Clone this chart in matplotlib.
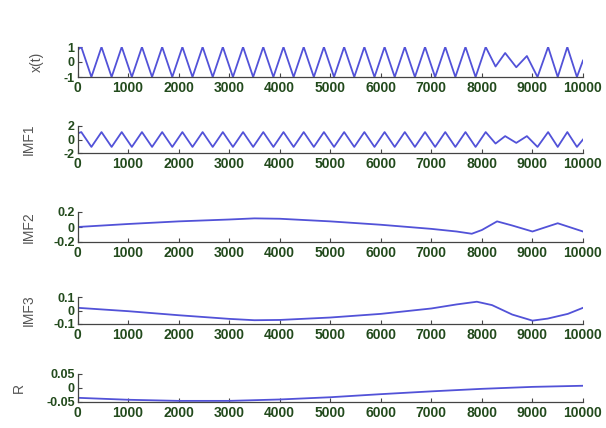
import matplotlib.pyplot as plt

plt.rcParams['font.family'] = ['Liberation Sans', 'DejaVu Sans']

# x(t): turning points
xt_t = [0, 75, 275, 475, 675, 875, 1075, 1275, 1475, 1675, 1875, 2075, 2275, 2475,
        2675, 2875, 3075, 3275, 3475, 3675, 3875, 4075, 4275, 4475, 4675, 4875, 5075,
        5275, 5475, 5675, 5875, 6075, 6275, 6475, 6675, 6875, 7075, 7275, 7475, 7675,
        7875, 8075, 8270, 8460, 8680, 8890, 9100, 9310, 9500, 9690, 9880, 10000]
xt_v = [0.8, 1, -1, 1, -1, 1, -1, 1, -1, 1, -1, 1, -1, 1, -1, 1, -1, 1, -1, 1, -1,
        1, -1, 1, -1, 1, -1, 1, -1, 1, -1, 1, -1, 1, -1, 1, -1, 1, -1, 1, -1, 1,
        -0.3, 0.6, -0.35, 0.4, -1, 1, -1, 1, -1, 0.1]

# IMF1 shares the turning points of x(t)
imf1_v = [0.9, 1.1, -1.1, 1.1, -1.1, 1.1, -1.1, 1.1, -1.1, 1.1, -1.1, 1.1, -1.1, 1.1,
          -1.1, 1.1, -1.1, 1.1, -1.1, 1.1, -1.1, 1.1, -1.1, 1.1, -1.1, 1.1, -1.1, 1.1,
          -1.1, 1.1, -1.1, 1.1, -1.1, 1.1, -1.1, 1.1, -1.1, 1.1, -1.1, 1.1, -1.1, 1.1,
          -0.6, 0.5, -0.5, 0.5, -1.1, 1.1, -1.1, 1.1, -1.1, 0.0]

imf2_t = [0, 1000, 2000, 3000, 3500, 4000, 5000, 6000, 7000, 7500, 7800, 8000,
          8300, 8600, 9000, 9500, 10000]
imf2_v = [0.0, 0.04, 0.075, 0.1, 0.115, 0.11, 0.075, 0.03, -0.025, -0.06, -0.09,
          -0.04, 0.075, 0.02, -0.06, 0.05, -0.06]

imf3_t = [0, 1000, 2000, 3000, 3500, 4000, 5000, 6000, 7000, 7500, 7900, 8200,
          8600, 9000, 9300, 9700, 10000]
imf3_v = [0.02, -0.005, -0.035, -0.062, -0.072, -0.07, -0.052, -0.025, 0.015,
          0.045, 0.065, 0.04, -0.03, -0.075, -0.06, -0.025, 0.02]

r_t = [0, 1000, 2000, 3000, 4000, 5000, 6000, 7000, 8000, 9000, 10000]
r_v = [-0.035, -0.042, -0.046, -0.046, -0.041, -0.033, -0.022, -0.012, -0.003,
       0.004, 0.008]

xticks = [0, 1000, 2000, 3000, 4000, 5000, 6000, 7000, 8000, 9000, 10000]

LINE = '#5252d8'
TICKTXT = '#224a1c'

fig = plt.figure(figsize=(6.06, 4.28), dpi=100)
W, H = 606, 428


def panel(top, bottom, t, v, lim, labels, name, label_x):
    ax = fig.add_axes([77.5 / W, 1 - bottom / H, 505.5 / W, (bottom - top) / H])
    ax.plot(t, v, color=LINE, lw=1.3, solid_joinstyle='round')
    ax.set_xlim(0, 10000)
    ax.set_ylim(-lim, lim)
    ax.set_xticks(xticks)
    ax.set_xticklabels([str(x) for x in xticks])
    ax.set_yticks([lim, 0, -lim])
    ax.set_yticklabels(labels)
    for s in ['top', 'right']:
        ax.spines[s].set_visible(False)
    for s in ['left', 'bottom']:
        ax.spines[s].set_color('#444444')
        ax.spines[s].set_linewidth(0.9)
    ax.tick_params(direction='in', length=3, width=0.8, color='#444444',
                   labelcolor=TICKTXT, pad=2)
    ax.tick_params(axis='x', labelsize=10, pad=3)
    ax.tick_params(axis='y', labelsize=9)
    for lab in ax.get_xticklabels() + ax.get_yticklabels():
        lab.set_fontweight('bold')
    ax.set_ylabel(name, fontsize=10, color='#555555')
    ax.yaxis.set_label_coords((label_x - 77.5) / 505.5, 0.5)
    return ax


panel(47, 77, xt_t, xt_v, 1, ['1', '0', '-1'], 'x(t)', 44)
panel(126, 153, xt_t, imf1_v, 2, ['2', '0', '-2'], 'IMF1', 36)
panel(212, 242, imf2_t, imf2_v, 0.2, ['0.2', '0', '-0.2'], 'IMF2', 36)
panel(297, 324, imf3_t, imf3_v, 0.1, ['0.1', '0', '-0.1'], 'IMF3', 36)
panel(374, 402, r_t, r_v, 0.05, ['0.05', '0', '-0.05'], 'R', 26)

fig.savefig('out.png', dpi=100)
